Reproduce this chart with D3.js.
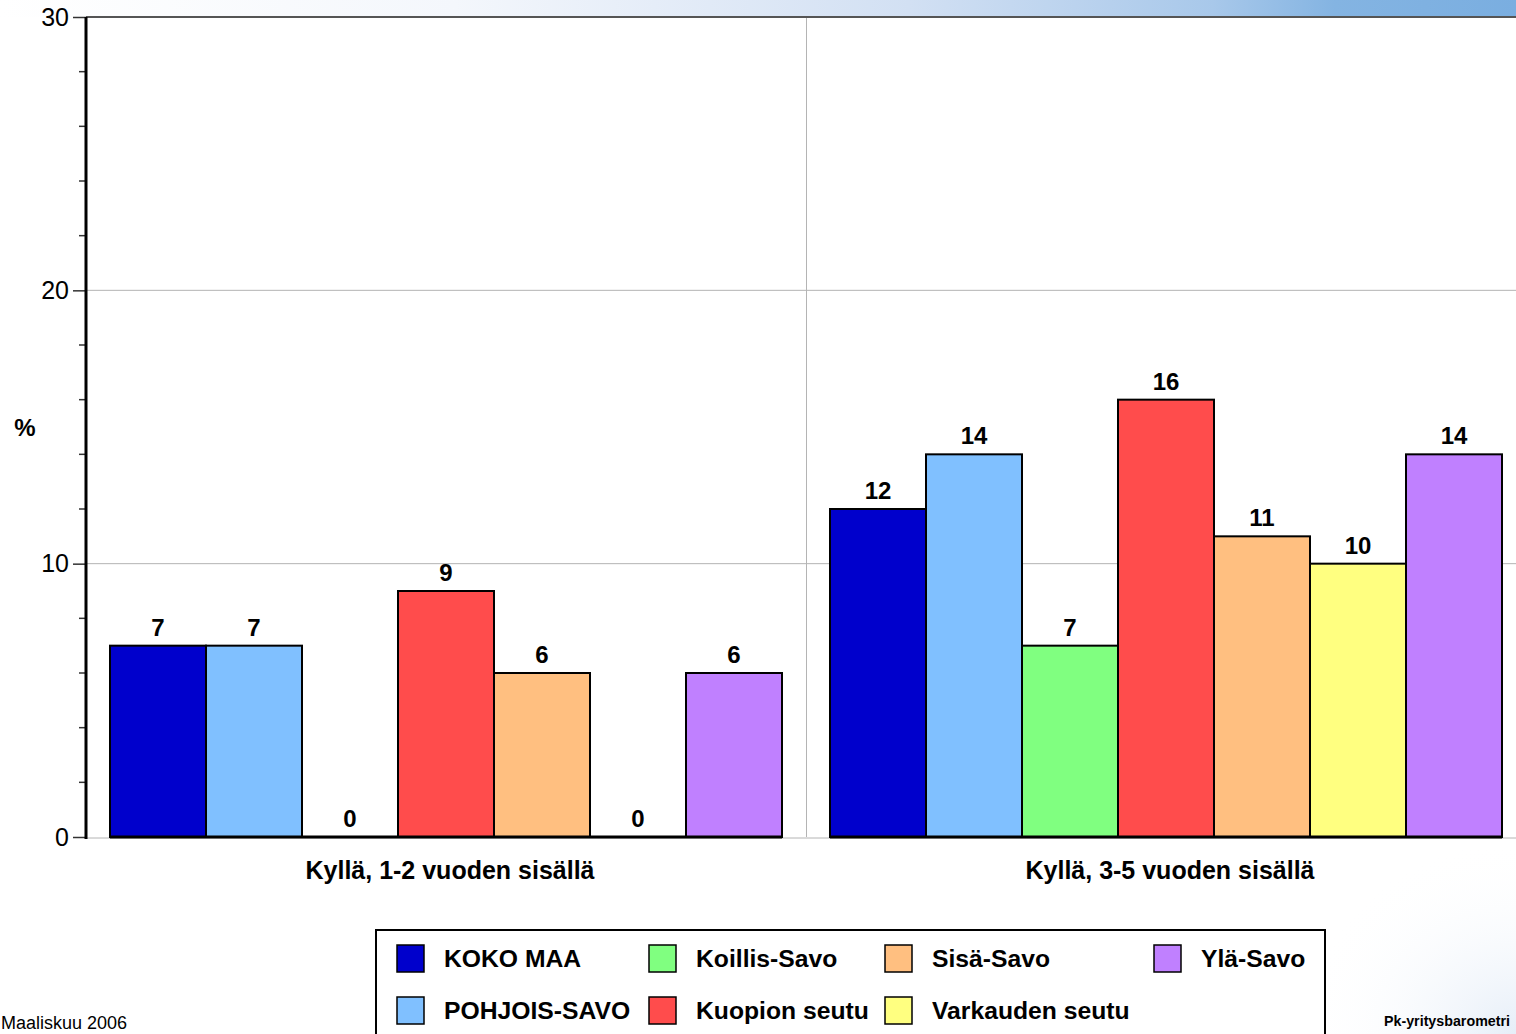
<!DOCTYPE html>
<html><head><meta charset="utf-8">
<script src="https://cdn.jsdelivr.net/npm/d3@7"></script>
<style>
html,body{margin:0;padding:0;background:#fff;overflow:hidden}
svg{display:block;font-family:"Liberation Sans",Arial,sans-serif}
</style></head>
<body>
<svg id="chart" width="1516" height="1034"></svg>
<script>
const categories = ["Kyllä, 1-2 vuoden sisällä", "Kyllä, 3-5 vuoden sisällä"];
const seriesNames = ["KOKO MAA", "POHJOIS-SAVO", "Koillis-Savo", "Kuopion seutu", "Sisä-Savo", "Varkauden seutu", "Ylä-Savo"];
const seriesColors = ["#0000CC", "#80C0FF", "#80FF80", "#FF4C4C", "#FFBF80", "#FFFF80", "#C080FF"];
const values12 = [7, 7, 0, 9, 6, 0, 6];
const values35 = [12, 14, 7, 16, 11, 10, 14];
const yTicks = [0, 10, 20, 30];
const yMinorTicks = [2, 4, 6, 8, 12, 14, 16, 18, 22, 24, 26, 28];
const yLabel = "%";
const footerLeft = "Maaliskuu 2006";
const footerRight = "Pk-yritysbarometri";

const valuesByCat = [values12, values35];
const svg = d3.select("#chart");
const defs = svg.append("defs");

// background decorations
const tg = defs.append("linearGradient").attr("id","topg").attr("x1","0").attr("x2","1");
tg.append("stop").attr("offset","0").attr("stop-color","#ffffff");
tg.append("stop").attr("offset","0.3").attr("stop-color","#f4f7fc");
tg.append("stop").attr("offset","0.6").attr("stop-color","#d2e0f3");
tg.append("stop").attr("offset","0.8").attr("stop-color","#a8c8ea");
tg.append("stop").attr("offset","0.88").attr("stop-color","#84b4e2");
tg.append("stop").attr("offset","1").attr("stop-color","#7aaee0");
svg.append("rect").attr("x",0).attr("y",0).attr("width",1516).attr("height",17).attr("fill","url(#topg)");
const rg = defs.append("radialGradient").attr("id","brg").attr("cx","1").attr("cy","1").attr("r","1");
rg.append("stop").attr("offset","0").attr("stop-color","#e6eef8");
rg.append("stop").attr("offset","1").attr("stop-color","#ffffff").attr("stop-opacity",0);
svg.append("rect").attr("x",1300).attr("y",840).attr("width",216).attr("height",194).attr("fill","url(#brg)");

const plotLeft = 86, plotTop = 17, plotBottom = 837;
const groupWidth = 720;
const x0 = d3.scaleBand().domain(categories).range([plotLeft, plotLeft + groupWidth * categories.length]);
const x1 = d3.scaleBand().domain(seriesNames).range([24, groupWidth - 24]);
const y = d3.scaleLinear().domain([0, 30]).range([plotBottom, plotTop]);
const color = d3.scaleOrdinal().domain(seriesNames).range(seriesColors);

// gridlines
svg.append("g").selectAll("line").data([10, 20]).join("line")
  .attr("x1", plotLeft).attr("x2", 1516).attr("y1", d => y(d)).attr("y2", d => y(d))
  .attr("stroke", "#b4b4b4").attr("stroke-width", 1);
// category divider
svg.append("line").attr("x1", x0(categories[1])+0.5).attr("x2", x0(categories[1])+0.5)
  .attr("y1", plotTop).attr("y2", plotBottom).attr("stroke", "#b4b4b4");
// baseline thin
svg.append("line").attr("x1", plotLeft).attr("x2", 1516).attr("y1", plotBottom+1).attr("y2", plotBottom+1)
  .attr("stroke", "#b4b4b4");
// top border
svg.append("line").attr("x1", plotLeft).attr("x2", 1516).attr("y1", plotTop).attr("y2", plotTop)
  .attr("stroke", "#555").attr("stroke-width", 2);

// bars
const groups = svg.append("g").selectAll("g").data(categories).join("g")
  .attr("transform", d => `translate(${x0(d)},0)`);
groups.selectAll("rect").data((c, i) => seriesNames.map((s, j) => ({s, v: valuesByCat[i][j]}))).join("rect")
  .attr("x", d => x1(d.s)).attr("width", x1.bandwidth())
  .attr("y", d => y(d.v)).attr("height", d => plotBottom - y(d.v))
  .attr("fill", d => color(d.s)).attr("stroke", "#000").attr("stroke-width", 2);
groups.append("line").attr("x1", x1(seriesNames[0])).attr("x2", x1(seriesNames[seriesNames.length-1]) + x1.bandwidth())
  .attr("y1", plotBottom).attr("y2", plotBottom).attr("stroke", "#000").attr("stroke-width", 3);
groups.selectAll("text.val").data((c, i) => seriesNames.map((s, j) => ({s, v: valuesByCat[i][j]}))).join("text")
  .attr("class","val")
  .attr("x", d => x1(d.s) + x1.bandwidth()/2).attr("y", d => y(d.v) - 10)
  .attr("text-anchor", "middle").attr("font-weight", "bold").attr("font-size", 24).text(d => d.v);
groups.append("text").attr("x", groupWidth/2 + 4).attr("y", 879).attr("text-anchor","middle")
  .attr("font-weight","bold").attr("font-size",25).text(d => d);

// y axis
const yAxis = svg.append("g").attr("transform", `translate(${plotLeft},0)`)
  .call(d3.axisLeft(y).tickValues(yTicks).tickSize(13).tickPadding(4).tickFormat(d3.format("d")));
yAxis.select(".domain").remove();
yAxis.selectAll(".tick line").attr("stroke","#333").attr("stroke-width",1.5);
yAxis.selectAll("text").attr("font-size", 25).attr("fill","#000").attr("font-family","Liberation Sans, Arial, sans-serif");
svg.append("g").selectAll("line").data(yMinorTicks).join("line")
  .attr("x1", plotLeft - 7).attr("x2", plotLeft).attr("y1", d => y(d)).attr("y2", d => y(d))
  .attr("stroke","#333").attr("stroke-width",1.5);
svg.append("line").attr("x1", plotLeft).attr("x2", plotLeft).attr("y1", plotTop).attr("y2", plotBottom+2)
  .attr("stroke","#000").attr("stroke-width",3);
svg.append("text").attr("x", 25).attr("y", 436).attr("text-anchor","middle")
  .attr("font-weight","bold").attr("font-size",24).text(yLabel);

// legend
svg.append("rect").attr("x", 376).attr("y", 930).attr("width", 949).attr("height", 120)
  .attr("fill","#fff").attr("stroke","#000").attr("stroke-width",2);
const legCols = [397, 649, 885, 1154];
const legRows = [958, 1010];
const leg = svg.append("g").selectAll("g").data(seriesNames).join("g")
  .attr("transform", (d, i) => `translate(${legCols[Math.floor(i/2)]},${legRows[i%2]})`);
leg.append("rect").attr("x", 0).attr("y", -13).attr("width", 27).attr("height", 27)
  .attr("fill", d => color(d)).attr("stroke","#000").attr("stroke-width",1.5);
leg.append("text").attr("x", 47).attr("y", 8.5).attr("font-weight","bold").attr("font-size",24.7).text(d => d);

// footer
svg.append("text").attr("x", 1).attr("y", 1029).attr("font-size", 18).text(footerLeft);
svg.append("text").attr("x", 1384).attr("y", 1026).attr("font-weight","bold").attr("font-size", 15).attr("textLength", 126).attr("lengthAdjust","spacingAndGlyphs").text(footerRight);
</script>
</body></html>
